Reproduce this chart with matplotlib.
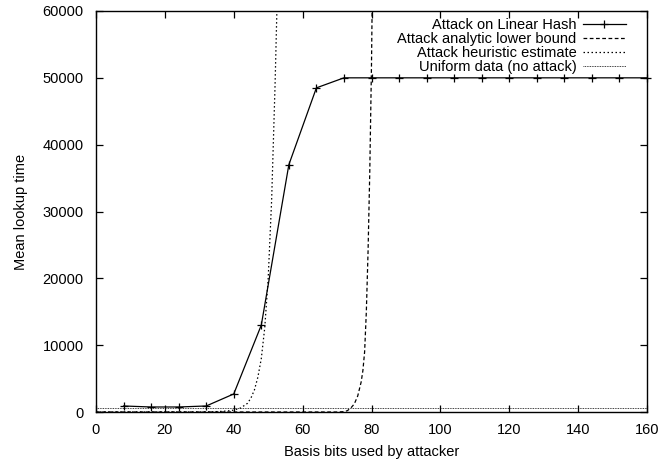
import matplotlib
matplotlib.use('Agg')
from matplotlib import pyplot as plt

plt.rcParams['font.family'] = ['Liberation Sans', 'DejaVu Sans']
plt.rcParams['font.size'] = 10.5

# measured series
hash_x = [8, 16, 24, 32, 40, 48, 56, 64, 72, 80, 88, 96, 104, 112, 120, 128, 136, 144, 152, 160]
hash_y = [900, 750, 750, 900, 2700, 13000, 37000, 48500, 50000, 50000, 50000, 50000,
          50000, 50000, 50000, 50000, 50000, 50000, 50000, 50000]

lower_x = [0, 70, 72, 73, 74, 75, 76, 77, 77.5, 78, 78.5, 79, 79.5, 80, 80.5]
lower_y = [0, 0, 50, 200, 600, 1200, 2400, 4500, 6200, 9000, 15000, 24000, 36000, 52000, 75000]

heur_x = [0, 30, 34, 36, 38, 40, 42, 44, 45, 46, 47, 48, 49, 50, 51, 52, 53]
heur_y = [0, 10, 40, 80, 150, 280, 600, 1300, 2100, 3300, 5200, 8000, 12600, 20000, 31700, 49000, 70000]

uniform_x = [0, 160]
uniform_y = [650, 650]

fig = plt.figure(figsize=(6.6, 4.62), dpi=100)
ax = fig.add_axes([96 / 660, 50 / 462, 551 / 660, 401 / 462])

ax.plot(hash_x, hash_y, color='black', linewidth=0.9, marker='+', markersize=6,
        markeredgewidth=0.9, label='Attack on Linear Hash', clip_on=False)
ax.plot(lower_x, lower_y, color='black', linewidth=0.9, linestyle=(0, (3, 2)),
        label='Attack analytic lower bound')
ax.plot(heur_x, heur_y, color='black', linewidth=0.9, linestyle=(0, (1.2, 2)),
        label='Attack heuristic estimate')
ax.plot(uniform_x, uniform_y, color='black', linewidth=0.6, linestyle=(0, (1, 1)),
        label='Uniform data (no attack)')

ax.set_xlim(0, 160)
ax.set_ylim(0, 60000)
ax.set_xticks(range(0, 161, 20))
ax.set_yticks(range(0, 60001, 10000))
ax.tick_params(direction='in', length=5, width=0.9, top=True, right=True)
ax.tick_params(axis='x', pad=8)
ax.tick_params(axis='y', pad=9)
for s in ax.spines.values():
    s.set_linewidth(1.0)

ax.set_xlabel('Basis bits used by attacker', labelpad=6)
ax.set_ylabel('Mean lookup time', labelpad=10)

ax.legend(loc='upper right', frameon=False, markerfirst=False, handlelength=3.0,
          handletextpad=0.4, labelspacing=0.0, borderaxespad=0.3,
          bbox_to_anchor=(0.981, 1.008))

fig.savefig('out.png', dpi=100)
